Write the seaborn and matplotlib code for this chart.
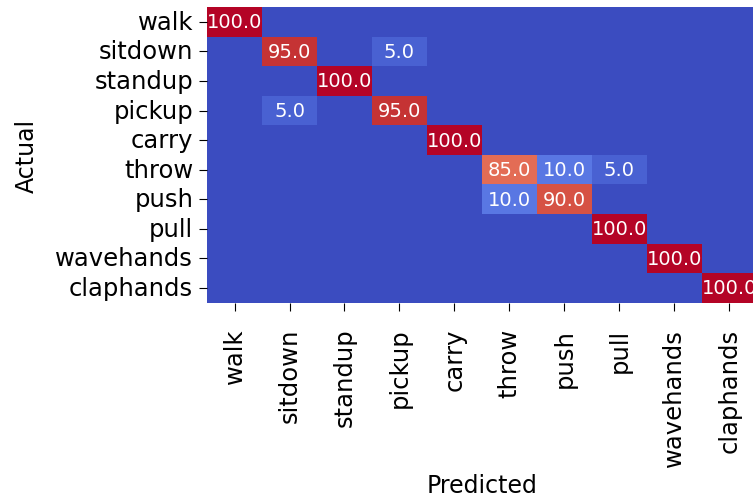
import numpy as np
import pandas as pd
import matplotlib
matplotlib.use("Agg")
import matplotlib.pyplot as plt
import seaborn as sns

# Action classes and confusion matrix (percent)
labels = ["walk", "sitdown", "standup", "pickup", "carry",
          "throw", "push", "pull", "wavehands", "claphands"]

walk = [100, 0, 0, 0, 0, 0, 0, 0, 0, 0]
sitdown = [0, 95, 0, 5, 0, 0, 0, 0, 0, 0]
standup = [0, 0, 100, 0, 0, 0, 0, 0, 0, 0]
pickup = [0, 5, 0, 95, 0, 0, 0, 0, 0, 0]
carry = [0, 0, 0, 0, 100, 0, 0, 0, 0, 0]
throw = [0, 0, 0, 0, 0, 85, 10, 5, 0, 0]
push = [0, 0, 0, 0, 0, 10, 90, 0, 0, 0]
pull = [0, 0, 0, 0, 0, 0, 0, 100, 0, 0]
wavehands = [0, 0, 0, 0, 0, 0, 0, 0, 100, 0]
claphands = [0, 0, 0, 0, 0, 0, 0, 0, 0, 100]

cm = pd.DataFrame([walk, sitdown, standup, pickup, carry,
                   throw, push, pull, wavehands, claphands],
                  index=labels, columns=labels, dtype=float)

# only show non-zero cells
annot = cm.map(lambda v: f"{v:.1f}" if v > 0 else "")

fig = plt.figure(figsize=(7.53, 5.02), dpi=100)
ax = fig.add_axes([0.275, 0.395, 0.73, 0.589])
sns.heatmap(cm, annot=annot, fmt="", cmap="coolwarm", vmin=0, vmax=100,
            cbar=False, ax=ax, annot_kws={"size": 14})

ax.set_xlabel("Predicted", fontsize=17, labelpad=5)
ax.set_ylabel("Actual", fontsize=17, labelpad=12)
ax.tick_params(axis="both", labelsize=17.5, length=6, pad=4)
ax.tick_params(axis="x", pad=12)
plt.setp(ax.get_xticklabels(), rotation=90)
plt.setp(ax.get_yticklabels(), rotation=0)

fig.savefig("out.png", dpi=100)
